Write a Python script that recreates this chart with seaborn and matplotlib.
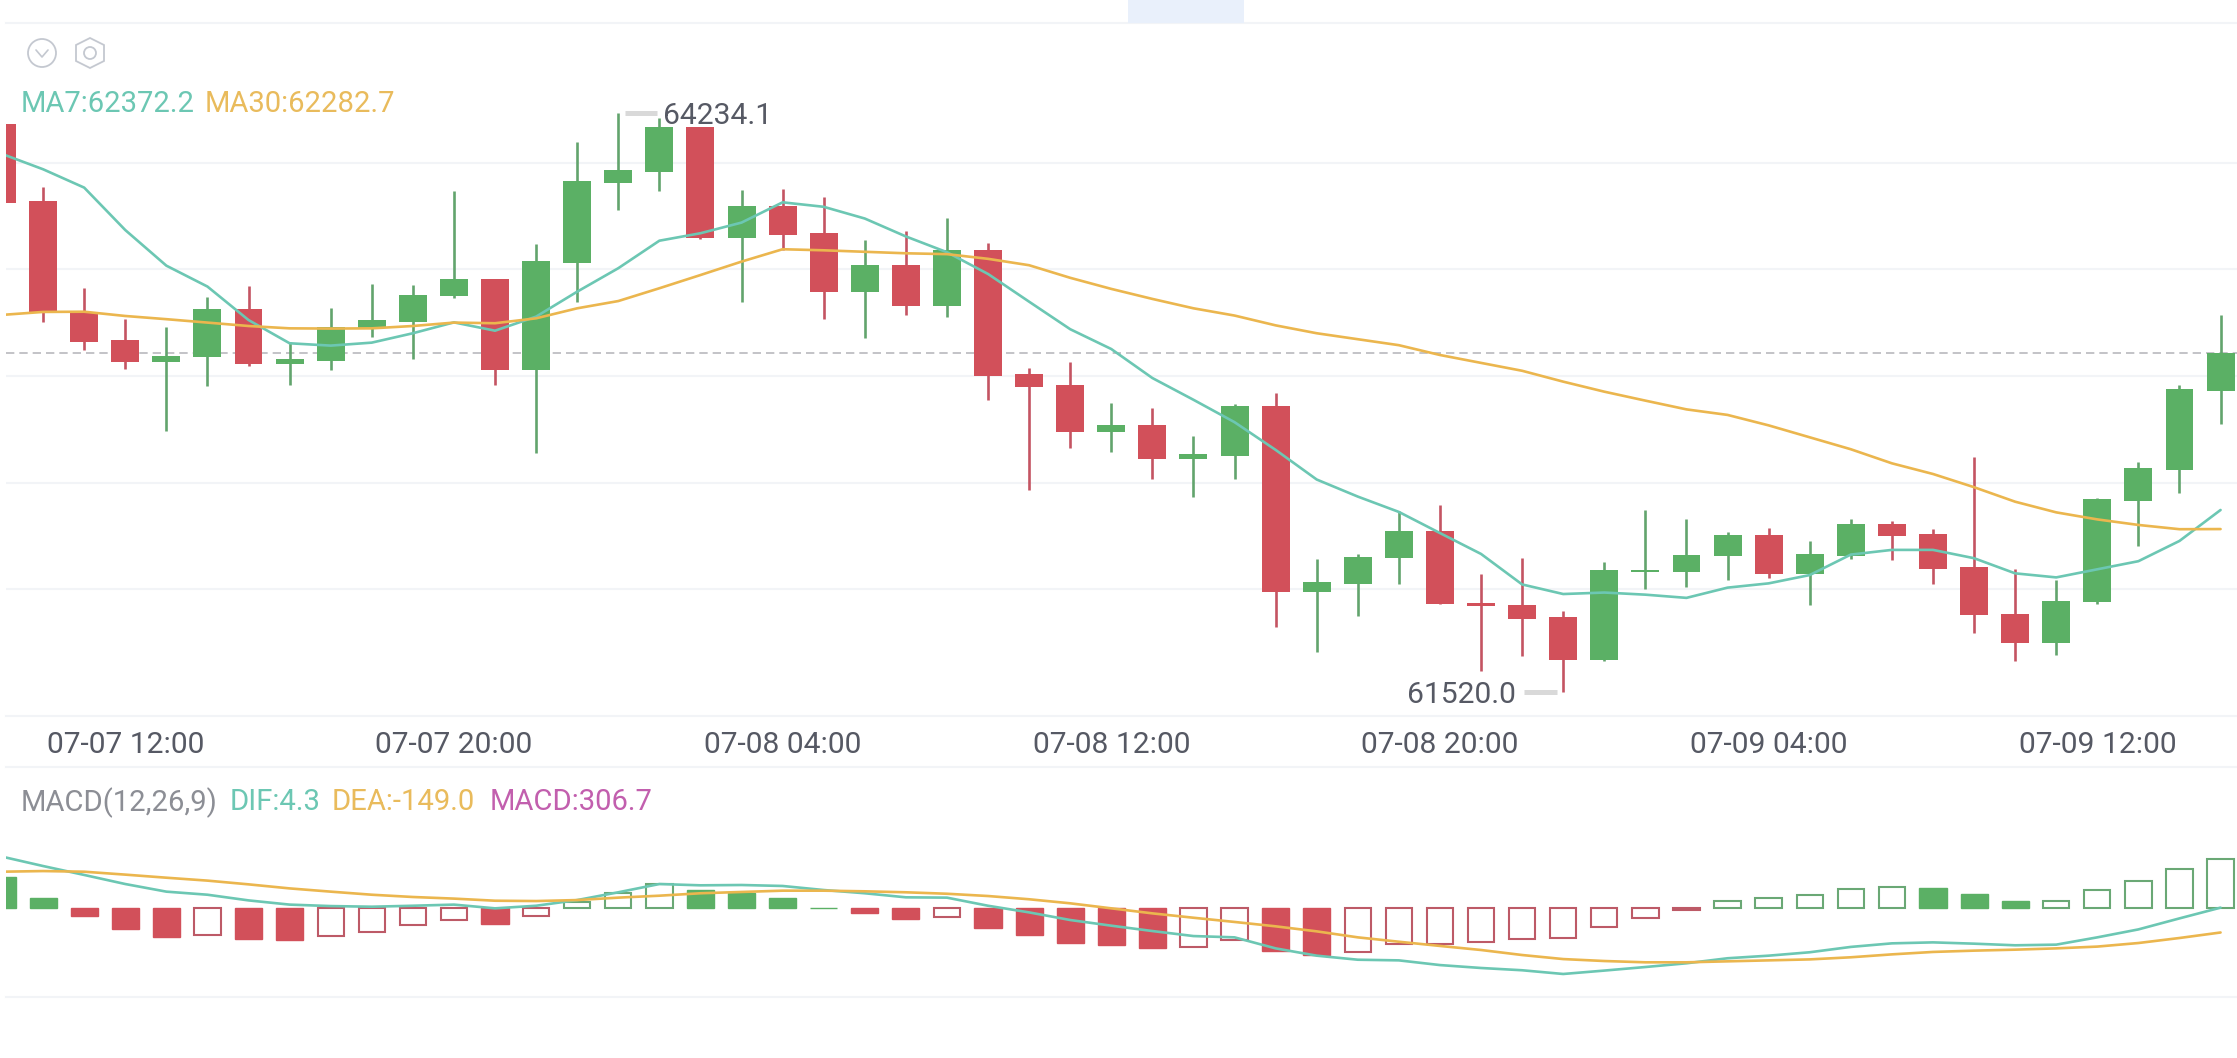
import matplotlib
matplotlib.use("Agg")
import matplotlib.pyplot as plt
from matplotlib.patches import Circle, Polygon, Rectangle
import numpy as np
import seaborn as sns

# Hourly BTC candles, 07-07 09:00 onward
opens = [64181, 63820, 63302, 63170, 63065, 63088, 63313, 63059, 63070, 63224,
         63254, 63374, 63456, 63029, 63532, 63906, 63957, 64169, 63650, 63800,
         63672, 63394, 63520, 63331, 63590, 63008, 62956, 62737, 62771, 62611,
         62624, 62858, 61986, 62027, 62146, 62272, 61936, 61927, 61869, 61670,
         62081, 62083, 62155, 62255, 62072, 62157, 62307, 62258, 62105, 61886,
         61750, 61939, 62416, 62561, 62930]
highs = [64181, 63886, 63412, 63267, 63232, 63373, 63424, 63162, 63318, 63432,
         63427, 63868, 63456, 63620, 64097, 64234.1, 64209, 64169, 63873, 63876,
         63841, 63637, 63679, 63743, 63624, 63038, 63067, 62873, 62849, 62717,
         62867, 62919, 62140, 62166, 62366, 62394, 62070, 62149, 61900, 62128,
         62372, 62330, 62269, 62286, 62227, 62332, 62321, 62283, 62619, 62097,
         62044, 62429, 62599, 62957, 63287]
lows = [63810, 63256, 63123, 63032, 62744, 62955, 63049, 62958, 63029, 63185,
        63079, 63365, 62958, 62638, 63349, 63779, 63868, 63645, 63349, 63592,
        63266, 63177, 63288, 63275, 62886, 62468, 62663, 62645, 62519, 62435,
        62519, 61823, 61708, 61877, 62025, 61931, 61615, 61686, 61520.0, 61666,
        62003, 62013, 62042, 62052, 61927, 62144, 62139, 62025, 61797, 61666,
        61692, 61930, 62205, 62454, 62774]
closes = [63810, 63295, 63162, 63065, 63096, 63313, 63057, 63079, 63229, 63263,
          63381, 63456, 63029, 63540, 63914, 63967, 64169, 63650, 63800, 63664,
          63394, 63520, 63331, 63590, 63001, 62949, 62737, 62771, 62611, 62634,
          62858, 61986, 62035, 62153, 62272, 61931, 61920, 61862, 61670, 62089,
          62089, 62161, 62255, 62072, 62166, 62307, 62250, 62097, 61878, 61750,
          61945, 62424, 62569, 62938, 63110]
ma7 = [64042, 63970, 63884, 63685, 63518, 63420, 63263, 63154, 63143, 63157,
       63201, 63252, 63213, 63279, 63396, 63506, 63635, 63670, 63720, 63815,
       63794, 63739, 63655, 63581, 63479, 63349, 63220, 63127, 62991, 62889,
       62784, 62654, 62515, 62435, 62363, 62264, 62166, 62023, 61978, 61985,
       61975, 61960, 62008, 62028, 62067, 62163, 62185, 62185, 62146, 62075,
       62056, 62094, 62132, 62227, 62372.2]
ma30 = [63287, 63301, 63302, 63282, 63267, 63251, 63235, 63224, 63223, 63224,
        63235, 63251, 63248, 63271, 63318, 63352, 63412, 63474, 63537, 63595,
        63590, 63583, 63576, 63572, 63550, 63520, 63461, 63409, 63362, 63318,
        63284, 63238, 63201, 63173, 63145, 63099, 63062, 63025, 62974, 62927,
        62885, 62844, 62818, 62769, 62713, 62657, 62591, 62541, 62479, 62411,
        62361, 62328, 62302, 62282, 62282.7]
macd = [195, 66, -49, -130, -175, -167, -191, -195, -171, -144,
        -105, -70, -99, -45, 41, 93, 148, 111, 97, 66,
        4, -27, -66, -53, -123, -167, -212, -228, -247, -236,
        -195, -265, -286, -267, -220, -219, -206, -189, -185, -115,
        -60, -12, 47, 62, 84, 117, 132, 123, 86, 45,
        48, 111, 169, 245, 306.7]
dif = [319, 261, 206, 150, 103, 84, 49, 23, 14, 10,
       16, 23, 0, 16, 51, 99, 150, 142, 144, 138,
       113, 93, 68, 66, 16, -25, -72, -107, -140, -171,
       -179, -247, -292, -317, -321, -350, -368, -382, -405, -384,
       -362, -339, -308, -292, -271, -238, -216, -210, -218, -228,
       -224, -179, -130, -62, 4.3]
dea = [226, 230, 226, 208, 189, 171, 148, 123, 103, 84,
       70, 60, 47, 45, 51, 66, 78, 93, 101, 109,
       109, 105, 99, 90, 76, 56, 31, 0, -31, -58,
       -84, -111, -142, -179, -206, -232, -257, -288, -313, -325,
       -333, -333, -327, -321, -315, -302, -284, -269, -261, -255,
       -247, -236, -214, -183, -149.0]
time_ticks = [3, 11, 19, 27, 35, 43, 51]
time_labels = ["07-07 12:00", "07-07 20:00", "07-08 04:00", "07-08 12:00",
               "07-08 20:00", "07-09 04:00", "07-09 12:00"]
price_grid = [64000, 63500, 63000, 62500, 62000]

W, H = 2237, 1058
UP, DOWN = "#5bb065", "#d2505a"
UP_EDGE, DOWN_EDGE = "#6aa875", "#bd5a67"
TEAL, AMBER, PURPLE = "#6cc7b3", "#ebb64e", "#c25fae"
GRID = "#f2f4f7"
TEXT = "#565964"
FONT_SIZE = 21.6
LEGEND_SIZE = 21.1

sns.set_theme(style="white")
plt.rcParams["font.family"] = ["Roboto", "DejaVu Sans"]

fig = plt.figure(figsize=(W / 100, H / 100), dpi=100, facecolor="white")


def panel(left, top, right, bottom):
    """Axes placed by its pixel box, measured from the top-left corner."""
    return fig.add_axes([left / W, 1 - bottom / H, (right - left) / W, (bottom - top) / H])


x = np.arange(len(closes))
xlim = (0.097, 54.4)

# Price panel
ax = panel(6, 23, W, 716)
ax.set_xlim(*xlim)
ax.set_ylim(61406, 64656)
ax.set_yticks(price_grid)
ax.tick_params(axis="y", left=False, labelleft=False)
ax.grid(axis="y", color=GRID, lw=1.5)
ax.set_axisbelow(True)
ax.axhline(closes[-1], color="#b9b9bd", lw=1.2, ls=(0, (5, 3)), zorder=1)

for i in x:
    colour = UP if closes[i] >= opens[i] else DOWN
    wick = "#62a46d" if closes[i] >= opens[i] else "#c45462"
    ax.vlines(i, lows[i], highs[i], color=wick, lw=1.9, zorder=2)
    ax.bar(i, abs(closes[i] - opens[i]), bottom=min(opens[i], closes[i]),
           width=0.68, color=colour, linewidth=0, zorder=3)

sns.lineplot(x=x, y=ma7, ax=ax, color=TEAL, lw=1.9, errorbar=None, zorder=4)
sns.lineplot(x=x, y=ma30, ax=ax, color=AMBER, lw=1.9, errorbar=None, zorder=4)

ax.set_xticks(time_ticks, time_labels)
ax.tick_params(axis="x", bottom=False, pad=5, labelsize=FONT_SIZE, labelcolor=TEXT)
for side in ("left", "right"):
    ax.spines[side].set_visible(False)
for side in ("top", "bottom"):
    ax.spines[side].set_color(GRID)
    ax.spines[side].set_linewidth(1.5)

# Extreme price markers
peak = int(np.argmax(highs))
trough = int(np.argmin(lows))
ax.hlines(highs[peak], peak + 0.17, peak + 0.95, color="#d9d9d9", lw=3.6, zorder=5)
ax.hlines(lows[trough], trough - 0.95, trough - 0.15, color="#d9d9d9", lw=3.6, zorder=5)
ax.annotate(f"{highs[peak]:.1f}", (peak, highs[peak]), xytext=(45, 0),
            textcoords="offset pixels", ha="left", va="center_baseline",
            fontsize=FONT_SIZE, color=TEXT, zorder=6)
ax.annotate(f"{lows[trough]:.1f}", (trough, lows[trough]), xytext=(-47, 0),
            textcoords="offset pixels", ha="right", va="center_baseline",
            fontsize=FONT_SIZE, color=TEXT, zorder=6)

# MACD panel
ax2 = panel(6, 767, W, 997)
ax2.set_xlim(*xlim)
ax2.set_ylim(-547, 872)
ax2.set_xticks([])
ax2.set_yticks([])
for side in ("left", "right"):
    ax2.spines[side].set_visible(False)
for side in ("top", "bottom"):
    ax2.spines[side].set_color(GRID)
    ax2.spines[side].set_linewidth(1.5)

# Bars where the histogram rises are outlined, falling ones are solid
for i in x:
    rising = i > 0 and macd[i] >= macd[i - 1]
    if rising:
        edge = UP_EDGE if macd[i] >= 0 else DOWN_EDGE
        ax2.bar(i, macd[i], width=0.64, facecolor="none", edgecolor=edge, linewidth=1.5, zorder=2)
    else:
        fill = UP if macd[i] >= 0 else DOWN
        ax2.bar(i, macd[i], width=0.66, color=fill, edgecolor=fill, linewidth=1.0, zorder=2)

sns.lineplot(x=x, y=dif, ax=ax2, color=TEAL, lw=1.9, errorbar=None, zorder=3)
sns.lineplot(x=x, y=dea, ax=ax2, color=AMBER, lw=1.9, errorbar=None, zorder=3)

# Full-figure overlay for the legends, header tab and icons, in pixel units
ov = fig.add_axes([0, 0, 1, 1], facecolor="none")
ov.set_xlim(0, W)
ov.set_ylim(H, 0)
ov.axis("off")

ov.add_patch(Rectangle((1128, 0), 116, 23, facecolor="#e9f0fb", edgecolor="none"))

ICON = "#c4c8d0"
ov.add_patch(Circle((42, 53), 14, facecolor="none", edgecolor=ICON, lw=1.3))
ov.plot([36, 42, 48], [50, 57, 50], color=ICON, lw=1.2)
ov.add_patch(Polygon([(90, 38), (104, 45), (104, 61), (90, 68), (76, 61), (76, 45)],
                     closed=True, facecolor="none", edgecolor=ICON, lw=1.3))
ov.add_patch(Circle((90, 53), 6, facecolor="none", edgecolor=ICON, lw=1.3))


def legend_text(px, py, text, colour):
    ov.text(px, py, text, color=colour, fontsize=LEGEND_SIZE, ha="left", va="center_baseline")


legend_text(21, 101, f"MA7:{ma7[-1]:.1f}", TEAL)
legend_text(205, 101, f"MA30:{ma30[-1]:.1f}", "#e9bb5c")
legend_text(21, 799, "MACD(12,26,9)", "#8c8e95")
legend_text(230, 799, f"DIF:{dif[-1]:.1f}", TEAL)
legend_text(332, 799, f"DEA:{dea[-1]:.1f}", "#e9bb5c")
legend_text(490, 799, f"MACD:{macd[-1]:.1f}", PURPLE)

fig.savefig("out.png", dpi=100, facecolor="white")
